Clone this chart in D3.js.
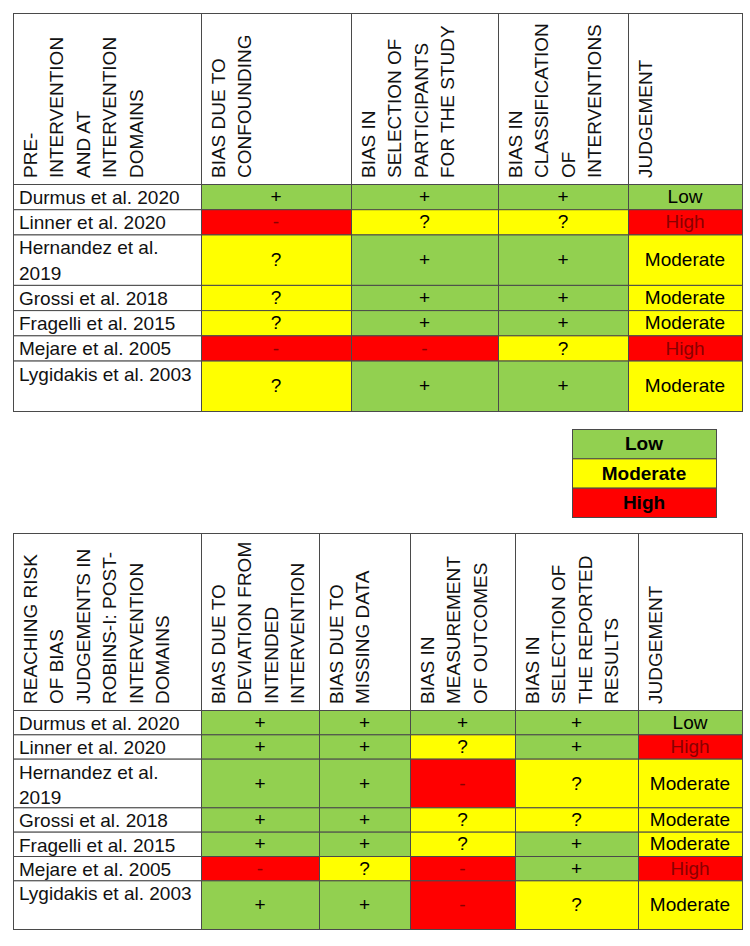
<!DOCTYPE html>
<html>
<head>
<meta charset="utf-8">
<script src="https://cdn.jsdelivr.net/npm/d3@7"></script>
<style>
  html, body { margin: 0; padding: 0; background: #fff; }
  svg { display: block; font-family: "Liberation Sans", Arial, sans-serif; }
</style>
</head>
<body>
<svg id="chart" width="750" height="946"></svg>
<script>
// ---------------- DATA ----------------
const studies = [
  "Durmus et al. 2020",
  "Linner et al. 2020",
  "Hernandez et al. 2019",
  "Grossi et al. 2018",
  "Fragelli et al. 2015",
  "Mejare et al. 2005",
  "Lygidakis et al. 2003"
];

// Table 1: pre-intervention and at-intervention domains
const preHeaders = [
  ["PRE-", "INTERVENTION", "AND AT", "INTERVENTION", "DOMAINS"],
  ["BIAS DUE TO", "CONFOUNDING"],
  ["BIAS IN", "SELECTION OF", "PARTICIPANTS", "FOR THE STUDY"],
  ["BIAS IN", "CLASSIFICATION", "OF", "INTERVENTIONS"],
  ["JUDGEMENT"]
];
const preConfounding    = ["+", "-", "?", "?", "?", "-", "?"];
const preSelection      = ["+", "?", "+", "+", "+", "-", "+"];
const preClassification = ["+", "?", "+", "+", "+", "?", "+"];
const preJudgement      = ["Low", "High", "Moderate", "Moderate", "Moderate", "High", "Moderate"];

// Table 2: post-intervention domains
const postHeaders = [
  ["REACHING RISK", "OF BIAS", "JUDGEMENTS IN", "ROBINS-I: POST-", "INTERVENTION", "DOMAINS"],
  ["BIAS DUE TO", "DEVIATION FROM", "INTENDED", "INTERVENTION"],
  ["BIAS DUE TO", "MISSING DATA"],
  ["BIAS IN", "MEASUREMENT", "OF OUTCOMES"],
  ["BIAS IN", "SELECTION OF", "THE REPORTED", "RESULTS"],
  ["JUDGEMENT"]
];
const postDeviation   = ["+", "+", "+", "+", "+", "-", "+"];
const postMissing     = ["+", "+", "+", "+", "+", "?", "+"];
const postMeasurement = ["+", "?", "-", "?", "?", "-", "-"];
const postReported    = ["+", "+", "?", "?", "+", "+", "?"];
const postJudgement   = ["Low", "High", "Moderate", "Moderate", "Moderate", "High", "Moderate"];

const legendLevels = ["Low", "Moderate", "High"];

// ---------------- LAYOUT / STYLE ----------------
const rowUnits = [1, 1, 2, 1, 1, 1, 2];
const FONT = 19;
const levelOf = { "+": "Low", "?": "Moderate", "-": "High", "Low": "Low", "Moderate": "Moderate", "High": "High" };
const fillScale = d3.scaleOrdinal().domain(["Low", "Moderate", "High"]).range(["#92D050", "#FFFF00", "#FF0000"]);
const textScale = d3.scaleOrdinal().domain(["Low", "Moderate", "High"]).range(["#000000", "#000000", "#8a0000"]);
const BORDER = "#4a4a4a";

const svg = d3.select("#chart");

function drawTable(cfg) {
  const g = svg.append("g");
  const nCols = cfg.edges.length - 1;
  const xScale = d3.scaleOrdinal().domain(d3.range(nCols + 1)).range(cfg.edges);
  const cum = [0];
  rowUnits.forEach(u => cum.push(cum[cum.length - 1] + u));
  const yScale = d3.scaleLinear().domain([0, cum[cum.length - 1]]).range([cfg.headerBottom, cfg.bodyBottom]);

  // header cells
  const hdr = g.selectAll("g.hdr").data(cfg.headers).join("g").attr("class", "hdr");
  hdr.append("rect")
    .attr("x", (d, i) => xScale(i) + 0.5)
    .attr("y", cfg.top + 0.5)
    .attr("width", (d, i) => xScale(i + 1) - xScale(i))
    .attr("height", cfg.headerBottom - cfg.top)
    .attr("fill", "#fff").attr("stroke", BORDER).attr("stroke-width", 1);
  hdr.each(function (lines, i) {
    d3.select(this).selectAll("text").data(lines).join("text")
      .attr("transform", (t, j) => `translate(${xScale(i) + 24 + j * 26.4},${cfg.headerBottom - 6}) rotate(-90)`)
      .attr("font-size", FONT).attr("fill", "#111")
      .text(t => t);
  });

  // body rows
  const columns = cfg.columns;
  studies.forEach((name, r) => {
    const y0 = yScale(cum[r]), y1 = yScale(cum[r + 1]);
    // study label cell
    g.append("rect")
      .attr("x", xScale(0) + 0.5).attr("y", y0 + 0.5)
      .attr("width", xScale(1) - xScale(0)).attr("height", y1 - y0)
      .attr("fill", "#fff").attr("stroke", BORDER);
    const label = g.append("text")
      .attr("x", xScale(0) + 6).attr("y", y0 + 20)
      .attr("font-size", FONT).attr("fill", "#111");
    // wrap label
    const words = name.split(" ");
    const maxW = xScale(1) - xScale(0) - 10;
    let line = [], lineNo = 0;
    let tspan = label.append("tspan").attr("x", xScale(0) + 6).attr("dy", 0);
    words.forEach(w => {
      line.push(w);
      tspan.text(line.join(" "));
      if (tspan.node().getComputedTextLength() > maxW && line.length > 1) {
        line.pop();
        tspan.text(line.join(" "));
        line = [w];
        lineNo++;
        tspan = label.append("tspan").attr("x", xScale(0) + 6).attr("dy", 25.5).text(w);
      }
    });
    // value cells
    columns.forEach((vals, c) => {
      const v = vals[r];
      const lvl = levelOf[v];
      const cx0 = xScale(c + 1), cx1 = xScale(c + 2);
      g.append("rect")
        .attr("x", cx0 + 0.5).attr("y", y0 + 0.5)
        .attr("width", cx1 - cx0).attr("height", y1 - y0)
        .attr("fill", fillScale(lvl)).attr("stroke", BORDER);
      g.append("text")
        .attr("x", (cx0 + cx1) / 2).attr("y", (y0 + y1) / 2)
        .attr("dy", "0.35em")
        .attr("text-anchor", "middle")
        .attr("font-size", FONT)
        .attr("fill", textScale(lvl))
        .text(v);
    });
  });
}

drawTable({
  edges: [13, 201, 351, 498, 628, 742],
  top: 13, headerBottom: 184, bodyBottom: 411,
  headers: preHeaders,
  columns: [preConfounding, preSelection, preClassification, preJudgement]
});

drawTable({
  edges: [13, 201, 319, 410, 515, 638, 742],
  top: 533, headerBottom: 710, bodyBottom: 929,
  headers: postHeaders,
  columns: [postDeviation, postMissing, postMeasurement, postReported, postJudgement]
});

// legend
const legY = d3.scaleBand().domain(legendLevels).range([429, 517]);
const leg = svg.append("g");
leg.selectAll("rect").data(legendLevels).join("rect")
  .attr("x", 572.5).attr("y", d => legY(d) + 0.5)
  .attr("width", 144).attr("height", legY.bandwidth())
  .attr("fill", d => fillScale(d)).attr("stroke", BORDER);
leg.selectAll("text").data(legendLevels).join("text")
  .attr("x", 644).attr("y", d => legY(d) + legY.bandwidth() / 2)
  .attr("dy", "0.35em").attr("text-anchor", "middle")
  .attr("font-size", FONT).attr("font-weight", "bold").attr("fill", "#000")
  .text(d => d);
</script>
</body>
</html>
